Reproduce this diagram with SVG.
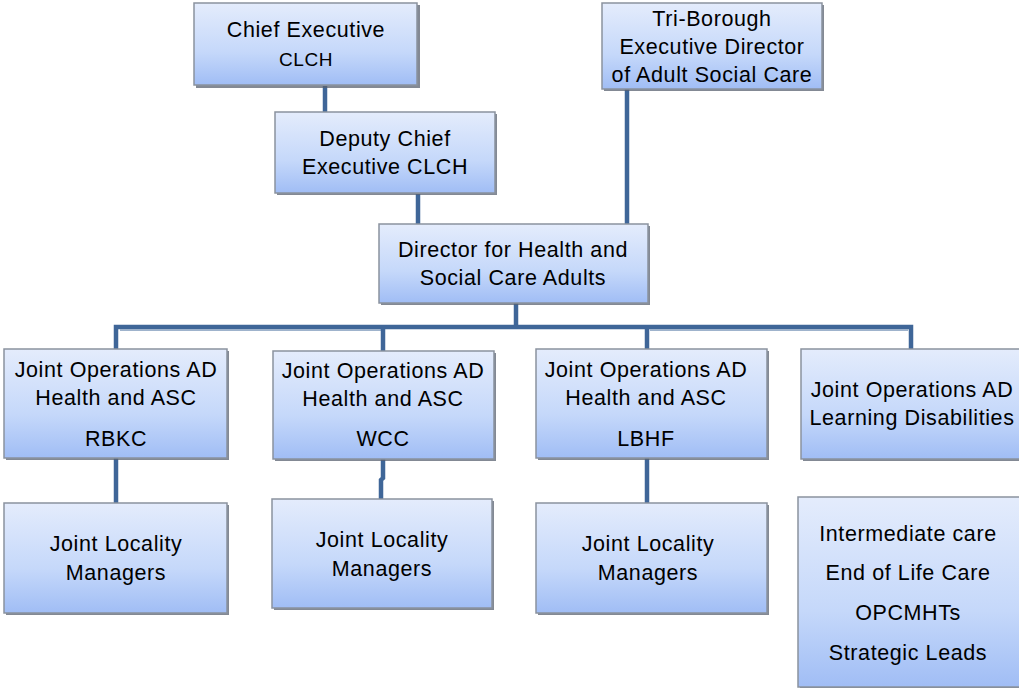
<svg xmlns="http://www.w3.org/2000/svg" width="1019" height="688" viewBox="0 0 1019 688">
<defs>
<linearGradient id="g" x1="0" y1="0" x2="0" y2="1">
<stop offset="0" stop-color="#e4ecfc"/>
<stop offset="0.6" stop-color="#c5d8fa"/>
<stop offset="1" stop-color="#a0bdf5"/>
</linearGradient>
</defs>
<style>
.box{fill:url(#g);stroke:#8a929e;stroke-width:1.5}
.sh{fill:#5a6170;opacity:0.75}
.t{font-family:"Liberation Sans",Arial,sans-serif;font-size:21.5px;fill:#000;text-anchor:middle;letter-spacing:0.6px}
.s{font-size:19px}
.c{stroke:#3f6698;stroke-width:4.5;fill:none}
.cl{stroke:#9fb3cc;stroke-width:2;fill:none}
</style>
<rect width="1019" height="688" fill="#fff"/>
<g id="connectors">
<line class="c" x1="325" y1="86" x2="325" y2="112"/>
<line class="c" x1="418" y1="194" x2="418" y2="224"/>
<line class="c" x1="627" y1="88" x2="627" y2="224"/>
<line class="c" x1="516" y1="303" x2="516" y2="329"/>
<polyline class="c" points="116,349 116,327 911,327 911,349"/>
<line class="cl" x1="120" y1="330" x2="382" y2="330"/>
<line class="cl" x1="650" y1="330" x2="908" y2="330"/>
<line class="c" x1="383" y1="327" x2="383" y2="351"/>
<line class="c" x1="647" y1="327" x2="647" y2="349"/>
<line class="c" x1="116" y1="458" x2="116" y2="503"/>
<polyline class="c" points="383,459 383,478 381,480 381,499"/>
<line class="c" x1="647" y1="458" x2="647" y2="503"/>
</g>
<g id="chief-executive">
<rect class="sh" x="196" y="5" width="224" height="83"/>
<rect class="box" x="194" y="3" width="223" height="82"/>
<text class="t" x="306" y="37">Chief Executive</text>
<text class="t s" x="306" y="66">CLCH</text>
</g>
<g id="deputy-chief">
<rect class="sh" x="277" y="114" width="220" height="81"/>
<rect class="box" x="275" y="112" width="220" height="81"/>
<text class="t" x="385" y="146">Deputy Chief</text>
<text class="t" x="385" y="174">Executive CLCH</text>
</g>
<g id="tri-borough">
<rect class="sh" x="604" y="5" width="220" height="86"/>
<rect class="box" x="602" y="3" width="220" height="86"/>
<text class="t" x="712" y="26">Tri-Borough</text>
<text class="t" x="712" y="54">Executive Director</text>
<text class="t" x="712" y="82">of Adult Social Care</text>
</g>
<g id="director">
<rect class="sh" x="381" y="226" width="269" height="79"/>
<rect class="box" x="379" y="224" width="269" height="79"/>
<text class="t" x="513" y="257">Director for Health and</text>
<text class="t" x="513" y="285">Social Care Adults</text>
</g>
<g id="ops-rbkc">
<rect class="sh" x="6" y="351" width="223" height="109"/>
<rect class="box" x="4" y="349" width="223" height="109"/>
<text class="t" x="116" y="377">Joint Operations AD</text>
<text class="t" x="116" y="405">Health and ASC</text>
<text class="t" x="116" y="446">RBKC</text>
</g>
<g id="ops-wcc">
<rect class="sh" x="275" y="353" width="221" height="108"/>
<rect class="box" x="273" y="351" width="221" height="108"/>
<text class="t" x="383" y="378">Joint Operations AD</text>
<text class="t" x="383" y="406">Health and ASC</text>
<text class="t" x="383" y="446">WCC</text>
</g>
<g id="ops-lbhf">
<rect class="sh" x="538" y="351" width="231" height="109"/>
<rect class="box" x="536" y="349" width="231" height="109"/>
<text class="t" x="646" y="377">Joint Operations AD</text>
<text class="t" x="646" y="405">Health and ASC</text>
<text class="t" x="646" y="446">LBHF</text>
</g>
<g id="ops-ld">
<rect class="sh" x="803" y="351" width="222" height="110"/>
<rect class="box" x="801" y="349" width="222" height="110"/>
<text class="t" x="912" y="397">Joint Operations AD</text>
<text class="t" x="912" y="425">Learning Disabilities</text>
</g>
<g id="jlm-rbkc">
<rect class="sh" x="6" y="505" width="223" height="110"/>
<rect class="box" x="4" y="503" width="223" height="110"/>
<text class="t" x="116" y="551">Joint Locality</text>
<text class="t" x="116" y="580">Managers</text>
</g>
<g id="jlm-wcc">
<rect class="sh" x="274" y="501" width="220" height="109"/>
<rect class="box" x="272" y="499" width="220" height="109"/>
<text class="t" x="382" y="547">Joint Locality</text>
<text class="t" x="382" y="576">Managers</text>
</g>
<g id="jlm-lbhf">
<rect class="sh" x="538" y="505" width="231" height="110"/>
<rect class="box" x="536" y="503" width="231" height="110"/>
<text class="t" x="648" y="551">Joint Locality</text>
<text class="t" x="648" y="580">Managers</text>
</g>
<g id="services">
<rect class="sh" x="800" y="499" width="224" height="192"/>
<rect class="box" x="798" y="497" width="224" height="190"/>
<text class="t" x="908" y="541">Intermediate care</text>
<text class="t" x="908" y="580">End of Life Care</text>
<text class="t" x="908" y="620">OPCMHTs</text>
<text class="t" x="908" y="660">Strategic Leads</text>
</g>
</svg>
